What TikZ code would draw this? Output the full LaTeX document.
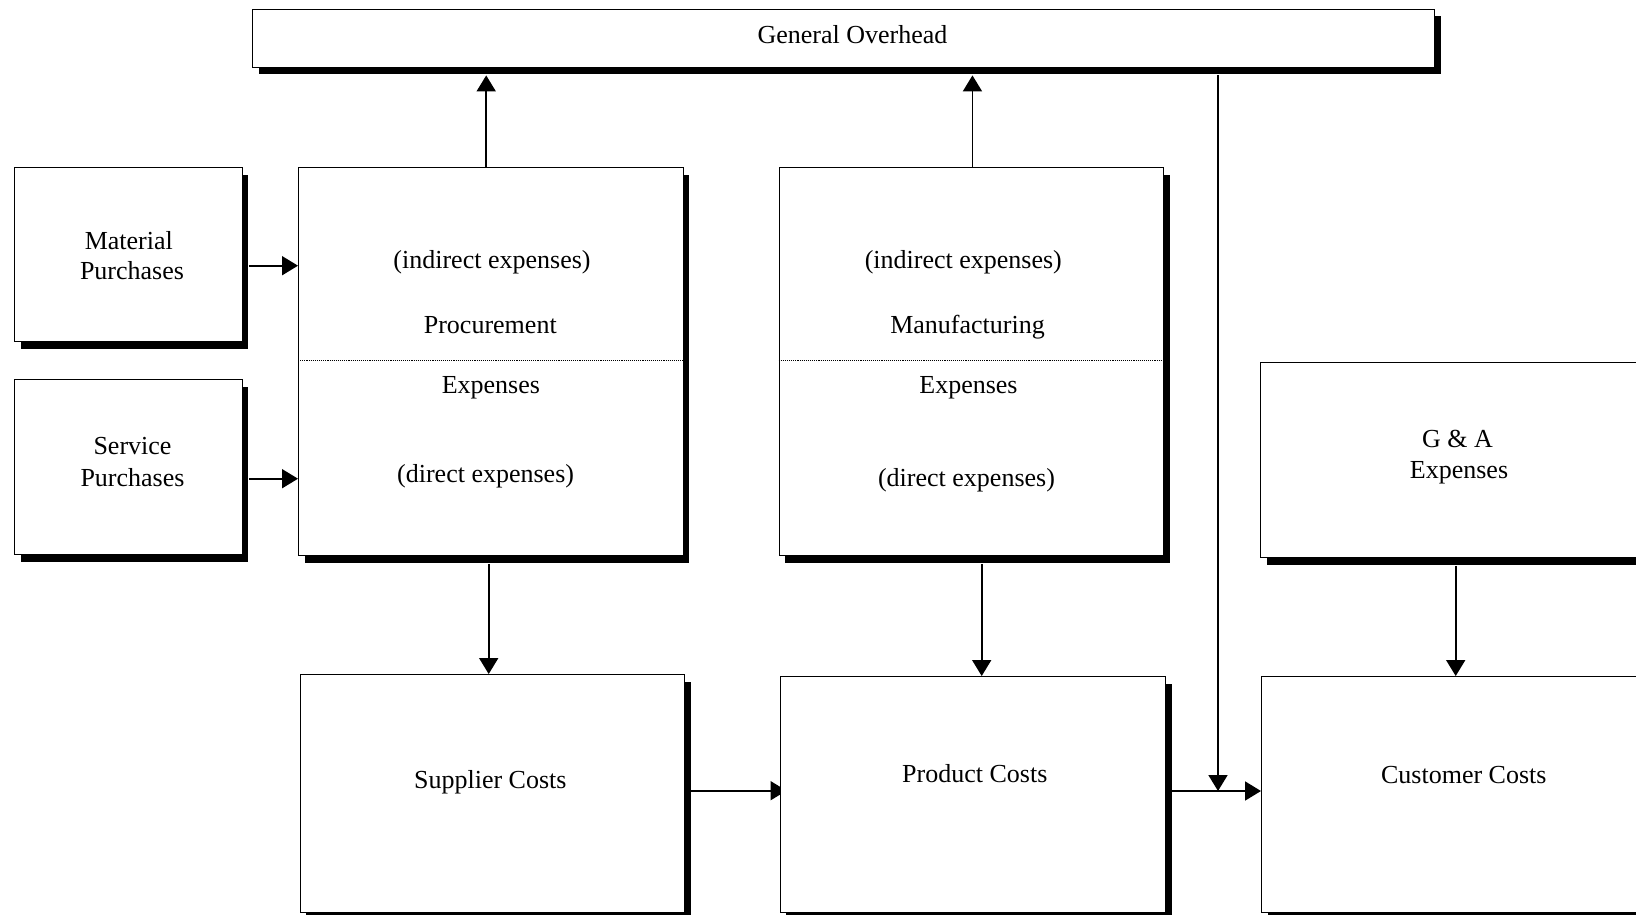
\documentclass[tikz,border=0pt]{standalone}
\usepackage{fontspec}
\setmainfont{Liberation Serif}
\usetikzlibrary{arrows.meta,calc,shadows}
\pgfdeclarelayer{bg}
\pgfsetlayers{bg,main}

\begin{document}
\begin{tikzpicture}[x=1pt,y=-1pt,
  box/.style={draw=black, line width=1.4pt, fill=white, inner sep=0pt,
    anchor=north west,
    drop shadow={shadow xshift=6pt, shadow yshift=-7pt, fill=black, opacity=1}},
  lbl/.style={font=\fontsize{26}{30}\selectfont, inner sep=0pt, anchor=base},
  arr/.style={line width=1.8pt, -{Triangle[length=16pt,width=19pt]}},
  sepline/.style={line width=1.1pt, densely dotted}]

\begin{pgfonlayer}{bg}
\fill[white] (0,0) rectangle (1636,914);
\end{pgfonlayer}
\clip (0,0) rectangle (1636,914);

% boxes
\node[box, minimum width=1182pt, minimum height=58pt]  (go)   at (252,8.5) {};
\node[box, minimum width=227.5pt, minimum height=174pt] (mat)  at (14,167) {};
\node[box, minimum width=227.5pt, minimum height=175pt] (serv) at (14,379) {};
\node[box, minimum width=384.5pt, minimum height=388pt] (proc) at (298,167) {};
\node[box, minimum width=384.5pt, minimum height=388pt] (manu) at (778.5,167) {};
\node[box, minimum width=390pt, minimum height=195.5pt] (ga)   at (1260,361.5) {};
\node[box, minimum width=384.5pt, minimum height=238pt] (sup)  at (299.5,674) {};
\node[box, minimum width=385.5pt, minimum height=236pt] (prod) at (779.5,676) {};
\node[box, minimum width=389pt, minimum height=236pt]   (cust) at (1261,676) {};

% dotted separators between indirect and direct expenses
\draw[sepline] ($(proc.north west)+(0,193.7)$) -- ($(proc.north east)+(0,193.7)$);
\draw[sepline] ($(manu.north west)+(0,193.7)$) -- ($(manu.north east)+(0,193.7)$);

% labels
\node[lbl] (goT)   at (852.5,43) {General Overhead};
\node[lbl] (matA)  at (128.8,249) {Material};
\node[lbl] (matB)  at (132,279) {Purchases};
\node[lbl] (servA) at (132.5,454) {Service};
\node[lbl] (servB) at (132.5,486) {Purchases};
\node[lbl] (procA) at (492,268) {(indirect expenses)};
\node[lbl] (procB) at (490.3,333) {Procurement};
\node[lbl] (procC) at (490.9,393) {Expenses};
\node[lbl] (procD) at (485.6,482) {(direct expenses)};
\node[lbl] (manuA) at (963.3,268) {(indirect expenses)};
\node[lbl] (manuB) at (967.5,333) {Manufacturing};
\node[lbl] (manuC) at (968.5,393) {Expenses};
\node[lbl] (manuD) at (966.5,486) {(direct expenses)};
\node[lbl] (gaA)   at (1457.5,447) {G \& A};
\node[lbl] (gaB)   at (1459,478) {Expenses};
\node[lbl] (supT)  at (490.3,788) {Supplier Costs};
\node[lbl] (prodT) at (974.8,782) {Product Costs};
\node[lbl] (custT) at (1463.8,783.5) {Customer Costs};

% junction of the overhead feed with the product-to-customer flow
\coordinate (j) at (1218,791);

% connectors
\draw[arr] ($(proc.north)+(-4.75,0)$) -- ($(proc.north |- go.south)+(-4.75,7.5)$);
\draw[arr] ($(manu.north)+(1,0)$) -- ($(manu.north |- go.south)+(1,7.5)$);
\draw[arr] ($(go.south -| j)+(0,7.5)$) -- (j);
\draw[arr] ($(mat.east)+(6,11)$) -- ($(proc.west |- mat.east)+(0,11)$);
\draw[arr] ($(serv.east)+(6,11.5)$) -- ($(proc.west |- serv.east)+(0,11.5)$);
\draw[arr] ($(proc.south)+(-2.25,7.5)$) -- ($(sup.north -| proc.south)+(-2.25,0)$);
\draw[arr] ($(manu.south)+(10.25,7.5)$) -- ($(prod.north -| manu.south)+(10.25,0)$);
\draw[arr] ($(ga.south)+(0,7.5)$) -- (cust.north -| ga.south);
\draw[arr] ($(prod.east |- j)+(6,0)$) -- (cust.west |- j);
% this head runs partly under the product box
\begin{pgfonlayer}{bg}
\draw[arr] ($(sup.east)+(6,-3)$) -- ($(prod.west |- sup.east)+(7,-3)$);
\end{pgfonlayer}
\end{tikzpicture}
\end{document}
